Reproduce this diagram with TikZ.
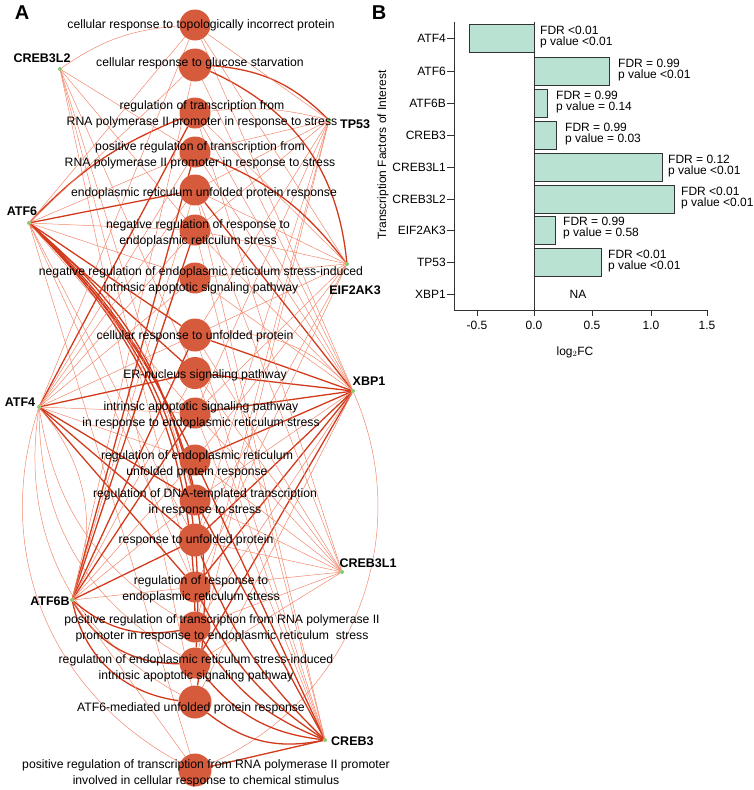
\documentclass[tikz,border=0pt]{standalone}
\usepackage{fontspec}
\setmainfont{Liberation Sans}
\usetikzlibrary{backgrounds}
\definecolor{gocol}{HTML}{D65A3C}
\definecolor{edgeL}{HTML}{F2886C}
\definecolor{edgeD}{HTML}{D23A1C}
\definecolor{tfcol}{HTML}{8CC86E}
\definecolor{barcol}{HTML}{B9E2D2}
\definecolor{axcol}{HTML}{333333}
\begin{document}
\begin{tikzpicture}[x=1pt,y=-1pt,
  go/.style={circle,fill=gocol,minimum size=31pt,inner sep=0pt},
  golab/.style={align=center,font=\fontsize{12.2}{16}\selectfont,inner sep=0pt},
  tf/.style={circle,fill=tfcol,minimum size=4pt,inner sep=0pt},
  tflab/.style={font=\fontsize{12.5}{14}\selectfont\bfseries,inner sep=0pt},
  thinE/.style={draw=edgeL,line width=0.5pt},
  thickE/.style={draw=edgeD,line width=1.3pt},
  panel/.style={font=\fontsize{20}{22}\selectfont\bfseries,inner sep=0pt},
  bar/.style={draw=axcol,fill=barcol,line width=0.8pt},
  txt/.style={font=\fontsize{12}{11.5}\selectfont,inner sep=0pt,align=left},
  ylab/.style={font=\fontsize{12}{14}\selectfont,inner sep=0pt,anchor=east},
  ax/.style={draw=axcol,line width=0.8pt}]
\useasboundingbox (0,0) rectangle (754,790);

% ---------- Panel A ----------
\node[panel] (pA) at (22,13) {A};
% GO term circles
\node[go] (g1) at (195,25) {};
\node[go,minimum size=33pt] (g2) at (195,65) {};
\node[go] (g3) at (195,113) {};
\node[go] (g4) at (195,152) {};
\node[go] (g5) at (195,190) {};
\node[go] (g6) at (195,230) {};
\node[go] (g7) at (195,278) {};
\node[go,minimum size=33pt] (g8) at (195,335) {};
\node[go,minimum size=32pt] (g9) at (195,373) {};
\node[go] (g10) at (195,413) {};
\node[go] (g11) at (195,460) {};
\node[go] (g12) at (195,500) {};
\node[go,minimum size=33pt] (g13) at (195,540) {};
\node[go] (g14) at (195,587) {};
\node[go] (g15) at (195,627) {};
\node[go] (g16) at (195,663) {};
\node[go,minimum size=33pt] (g17) at (195,702) {};
\node[go,minimum size=33pt] (g18) at (195,770) {};
% TF nodes
\node[tf] (cl2) at (60,69) {};
\node[tf] (tp) at (329,120) {};
\node[tf] (a6) at (29,223) {};
\node[tf] (ek) at (347,264) {};
\node[tf] (xb) at (353,391) {};
\node[tf] (a4) at (39,407) {};
\node[tf] (cl1) at (342,572) {};
\node[tf] (a6b) at (72,600) {};
\node[tf] (c3) at (325,740) {};

\begin{pgfonlayer}{background}
% CREB3L2
\draw[thinE] (cl2) to[bend left=15] (g1);
\foreach \g in {g6,g9,g12,g14,g17,g4} \draw[thinE] (cl2) -- (\g);
% TP53
\draw[thickE] (tp) to[bend right=20] (g2);
\draw[thinE] (tp) to[bend right=10] (g3);
\foreach \g in {g1,g4,g5,g8,g10,g13,g15,g16,g6} \draw[thinE] (tp) -- (\g);
% ATF6
\foreach \g in {g5,g9,g8} \draw[thickE] (a6) -- (\g);
\draw[thickE] (a6) to[bend left=12] (g3);
\draw[thickE] (a6) to[bend left=18] (g12);
\draw[thickE] (a6) to[bend left=22] (g15);
\draw[thickE] (a6) to[bend left=25] (g16);
\draw[thickE] (a6) to[bend left=28] (g17);
\draw[thickE] (a6) to[bend left=10] (g11);
\foreach \g in {g1,g2,g4,g6,g7,g10,g13,g14,g18} \draw[thinE] (a6) -- (\g);
% ATF4
\foreach \g in {g12,g13,g14,g3,g9} \draw[thickE] (a4) -- (\g);
\foreach \g in {g1,g4,g5,g6,g7,g8,g10,g11} \draw[thinE] (a4) -- (\g);
\draw[thinE] (a4) to[bend right=25] (g15);
\draw[thinE] (a4) to[bend right=30] (g16);
\draw[thinE] (a4) to[bend right=35] (g17);
\draw[thinE] (a4) to[bend right=40] (g18);
\draw[thinE] (a4) to[bend left=30] (a6b);
% ATF6B
\foreach \g in {g6,g8,g10,g13,g4} \draw[thickE] (a6b) -- (\g);
\draw[thickE] (a6b) to[bend right=25] (g15);
\draw[thickE] (a6b) to[bend right=30] (g16);
\draw[thickE] (a6b) to[bend right=35] (g17);
\foreach \g in {g5,g9,g11,g12,g14,g18,g2} \draw[thinE] (a6b) -- (\g);
% XBP1
\foreach \g in {g5,g8,g9,g10,g11,g13,g14,g16} \draw[thickE] (xb) -- (\g);
\foreach \g in {g1,g2,g3,g4,g6,g7,g12,g15,g17} \draw[thinE] (xb) -- (\g);
\draw[thinE] (xb) to[bend left=45] (g18);
\draw[thinE] (xb) to[bend right=25] (g8);
% EIF2AK3
\draw[thickE] (ek) to[bend right=30] (g2);
\draw[thickE] (ek) to[bend right=15] (g4);
\foreach \g in {g1,g3,g5,g6,g7,g8,g10,g13,g14,g11} \draw[thinE] (ek) -- (\g);
% CREB3L1
\foreach \g in {g5,g8,g9,g10,g11,g12,g13,g14,g15,g16,g3} \draw[thinE] (cl1) -- (\g);
% CREB3
\foreach \g in {g11,g12,g18} \draw[thickE] (c3) -- (\g);
\draw[thickE] (c3) to[bend left=12] (g13);
\draw[thickE] (c3) to[bend left=15] (g14);
\draw[thickE] (c3) to[bend left=18] (g15);
\draw[thickE] (c3) to[bend left=22] (g16);
\draw[thickE] (c3) to[bend left=25] (g17);
\foreach \g in {g5,g8,g9,g10,g6} \draw[thinE] (c3) -- (\g);
\end{pgfonlayer}

% TF labels
\node[tflab] (lcl2) at (42,58) {CREB3L2};
\node[tflab,anchor=west] (ltp) at (340,124) {TP53};
\node[tflab] (la6) at (22,211) {ATF6};
\node[tflab] (lek) at (355,290) {EIF2AK3};
\node[tflab] (lxb) at (369,381) {XBP1};
\node[tflab] (la4) at (20,402) {ATF4};
\node[tflab] (lcl1) at (368,563) {CREB3L1};
\node[tflab] (la6b) at (50,601) {ATF6B};
\node[tflab,anchor=west] (lc3) at (331,741) {CREB3};

% GO labels
\node[golab] (t1) at (201,25) {cellular response to topologically incorrect protein};
\node[golab] (t2) at (200,63) {cellular response to glucose starvation};
\node[golab] (t3) at (202,114) {regulation of transcription from\\RNA polymerase II promoter in response to stress};
\node[golab] (t4) at (200,155) {positive regulation of transcription from\\RNA polymerase II promoter in response to stress};
\node[golab] (t5) at (204,193) {endoplasmic reticulum unfolded protein response};
\node[golab] (t6) at (198,233) {negative regulation of response to\\endoplasmic reticulum stress};
\node[golab] (t7) at (201,280) {negative regulation of endoplasmic reticulum stress-induced\\intrinsic apoptotic signaling pathway};
\node[golab] (t8) at (195,336) {cellular response to unfolded protein};
\node[golab] (t9) at (205,375) {ER-nucleus signaling pathway};
\node[golab] (t10) at (201,415.5) {intrinsic apoptotic signaling pathway\\in response to endoplasmic reticulum stress};
\node[golab] (t11) at (197,464) {regulation of endoplasmic reticulum\\unfolded protein response};
\node[golab] (t12) at (205,502) {regulation of DNA-templated transcription\\in response to stress};
\node[golab] (t13) at (196,540) {response to unfolded protein};
\node[golab] (t14) at (201,589) {regulation of response to\\endoplasmic reticulum stress};
\node[golab] (t15) at (222,628) {positive regulation of transcription from RNA polymerase II\\promoter in response to endoplasmic reticulum\ \ stress};
\node[golab] (t16) at (196,668) {regulation of endoplasmic reticulum stress-induced\\intrinsic apoptotic signaling pathway};
\node[golab] (t17) at (191,708) {ATF6-mediated unfolded protein response};
\node[golab] (t18) at (206,773) {positive regulation of transcription from RNA polymerase II promoter\\involved in cellular response to chemical stimulus};

% ---------- Panel B ----------
\node[panel] (pB) at (379,13) {B};
% bars (zero at x=534, 116.7 px per unit)
\draw[bar] (469,24) rectangle (534,52);
\draw[bar] (534,57) rectangle (609,85);
\draw[bar] (534,89) rectangle (547,117);
\draw[bar] (534,121) rectangle (556,149);
\draw[bar] (534,153) rectangle (662,181);
\draw[bar] (534,185) rectangle (674,213);
\draw[bar] (534,216) rectangle (555,244);
\draw[bar] (534,248) rectangle (601,276);
% axes
\draw[ax] (454,22) -- (454,310) -- (707,310);
\draw[draw=axcol,line width=0.7pt] (534,22) -- (534,310);
\foreach \y in {38,71,103,135,167,199,230,262,294} \draw[ax] (447,\y) -- (454,\y);
\foreach \x in {477,534,592,651,707} \draw[ax] (\x,310) -- (\x,316);
% y labels
\node[ylab] (yl1) at (446,38) {ATF4};
\node[ylab] (yl2) at (446,71) {ATF6};
\node[ylab] (yl3) at (446,103) {ATF6B};
\node[ylab] (yl4) at (446,135) {CREB3};
\node[ylab] (yl5) at (446,167) {CREB3L1};
\node[ylab] (yl6) at (446,199) {CREB3L2};
\node[ylab] (yl7) at (446,230) {EIF2AK3};
\node[ylab] (yl8) at (446,262) {TP53};
\node[ylab] (yl9) at (446,294) {XBP1};
% x tick labels
\foreach \x/\l in {477/-0.5,534/0.0,592/0.5,651/1.0,707/1.5}
  \node[font=\fontsize{12}{14}\selectfont,inner sep=0pt] (xt\x) at (\x,325) {\l};
\node[font=\fontsize{12}{14}\selectfont,inner sep=0pt] (xlab) at (575,352) {log$_2$FC};
\node[font=\fontsize{12}{14}\selectfont,inner sep=0pt,rotate=90] (ytitle) at (383,155) {Transcription Factors of Interest};
% annotations
\node[txt,anchor=west] (n1) at (540,37) {FDR <0.01\\p value <0.01};
\node[txt,anchor=west] (n2) at (618,70) {FDR = 0.99\\p value <0.01};
\node[txt,anchor=west] (n3) at (556,102) {FDR = 0.99\\p value = 0.14};
\node[txt,anchor=west] (n4) at (565,134) {FDR = 0.99\\p value = 0.03};
\node[txt,anchor=west] (n5) at (668,166) {FDR = 0.12\\p value <0.01};
\node[txt,anchor=west] (n6) at (681,198) {FDR <0.01\\p value <0.01};
\node[txt,anchor=west] (n7) at (563,228) {FDR = 0.99\\p value = 0.58};
\node[txt,anchor=west] (n8) at (608,261) {FDR <0.01\\p value <0.01};
\node[font=\fontsize{12}{14}\selectfont,inner sep=0pt] (na) at (578,294) {NA};
\end{tikzpicture}
\end{document}
